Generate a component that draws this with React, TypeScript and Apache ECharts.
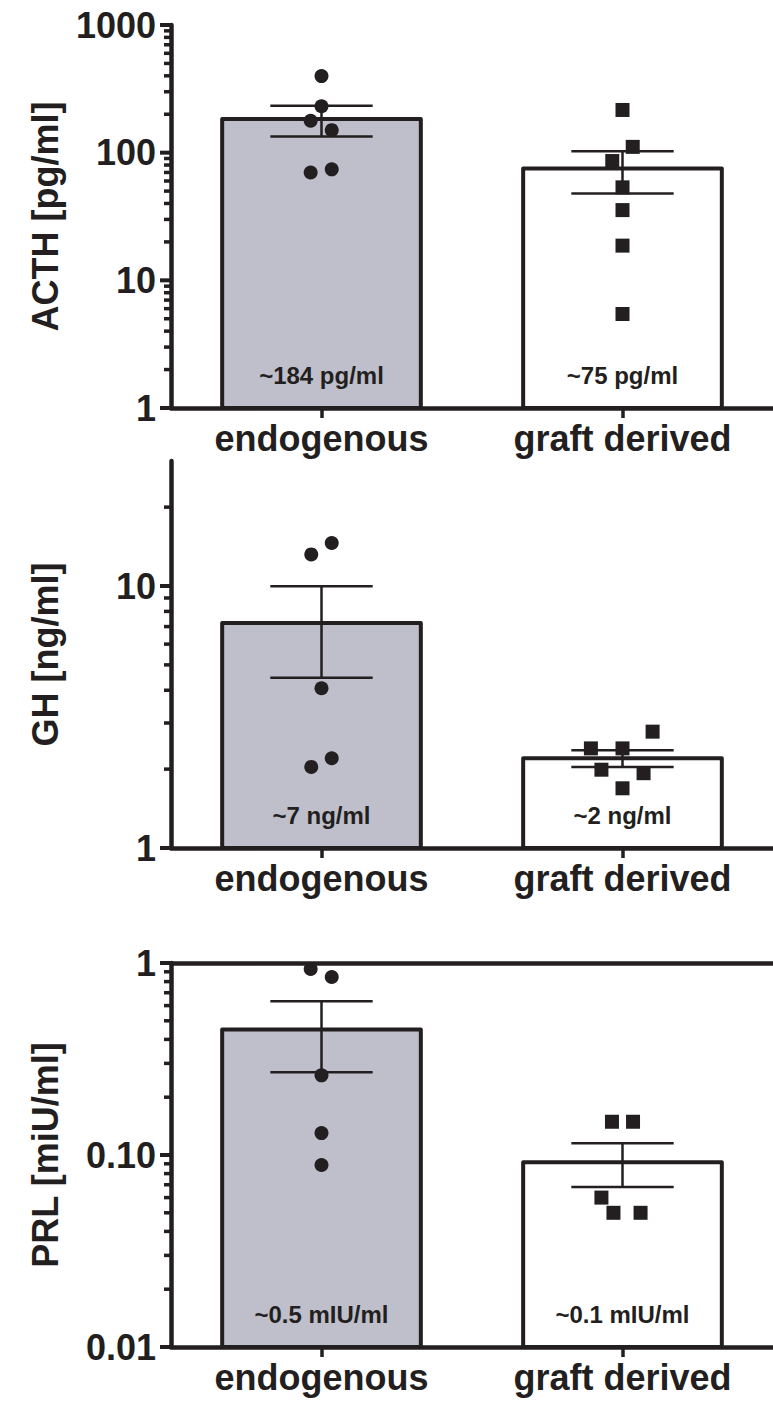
import React, { useEffect, useRef } from "react";
import * as echarts from "echarts";

// ---------- data ----------
const CATEGORIES = ["endogenous", "graft derived"];

const ACTH_ENDO = [398, 231, 178, 150, 70, 74];
const ACTH_ENDO_JITTER = [0, 0, -0.036, 0.034, -0.036, 0.034];
const ACTH_GRAFT = [216, 111, 86, 53.5, 35.5, 18.7, 5.45];
const ACTH_GRAFT_JITTER = [0, 0.034, -0.034, 0, 0, 0, 0];
const ACTH_BAR_LABELS = ["~184 pg/ml", "~75 pg/ml"];
const ACTH_TICKS = [1, 10, 100, 1000];
const ACTH_TICK_LABELS = ["1", "10", "100", "1000"];

const GH_ENDO = [14.6, 13.2, 4.07, 2.2, 2.04];
const GH_ENDO_JITTER = [0.034, -0.034, 0, 0.034, -0.034];
const GH_GRAFT = [2.4, 2.4, 2.78, 1.99, 1.69, 1.93];
const GH_GRAFT_JITTER = [-0.105, 0, 0.1, -0.07, 0, 0.07];
const GH_BAR_LABELS = ["~7 ng/ml", "~2 ng/ml"];
const GH_TICKS = [1, 10];
const GH_TICK_LABELS = ["1", "10"];

const PRL_ENDO = [0.93, 0.845, 0.26, 0.13, 0.0887];
const PRL_ENDO_JITTER = [-0.036, 0.034, 0, 0, 0];
const PRL_GRAFT = [0.149, 0.149, 0.06, 0.05, 0.05];
const PRL_GRAFT_JITTER = [-0.035, 0.035, -0.07, -0.03, 0.06];
const PRL_BAR_LABELS = ["~0.5 mIU/ml", "~0.1 mIU/ml"];
const PRL_TICKS = [0.01, 0.1, 1];
const PRL_TICK_LABELS = ["0.01", "0.10", "1"];

const Y_NAMES = ["ACTH [pg/ml]", "GH [ng/ml]", "PRL [miU/ml]"];
const Y_MIN = [1, 1, 0.01];
const Y_MAX = [1000, 30, 1];

// ---------- styling ----------
const INK = "#231f20";
const BAR_FILLS = ["#bfbfcb", "#ffffff"];
const FONT = "'Liberation Sans', Arial, Helvetica, sans-serif";

const GRIDS = [
  { left: 171, top: 25, width: 610, height: 383 },
  { left: 171, top: 461, width: 610, height: 387 },
  { left: 171, top: 963, width: 610, height: 384 },
];

function mean(a: number[]) {
  return a.reduce((s, v) => s + v, 0) / a.length;
}
function sem(a: number[]) {
  const m = mean(a);
  const v = a.reduce((s, x) => s + (x - m) * (x - m), 0) / (a.length - 1);
  return Math.sqrt(v / a.length);
}
function minorTicks(min: number, max: number) {
  const out: number[] = [];
  const e0 = Math.floor(Math.log10(min));
  const e1 = Math.ceil(Math.log10(max));
  for (let e = e0; e <= e1; e++) {
    for (let k = 2; k <= 9; k++) {
      const v = k * Math.pow(10, e);
      if (v > min * 1.0001 && v < max * 0.9999) out.push(v);
    }
  }
  return out;
}

const PANELS = [
  {
    groups: [ACTH_ENDO, ACTH_GRAFT],
    jitter: [ACTH_ENDO_JITTER, ACTH_GRAFT_JITTER],
    barLabels: ACTH_BAR_LABELS,
    ticks: ACTH_TICKS,
    tickLabels: ACTH_TICK_LABELS,
  },
  {
    groups: [GH_ENDO, GH_GRAFT],
    jitter: [GH_ENDO_JITTER, GH_GRAFT_JITTER],
    barLabels: GH_BAR_LABELS,
    ticks: GH_TICKS,
    tickLabels: GH_TICK_LABELS,
  },
  {
    groups: [PRL_ENDO, PRL_GRAFT],
    jitter: [PRL_ENDO_JITTER, PRL_GRAFT_JITTER],
    barLabels: PRL_BAR_LABELS,
    ticks: PRL_TICKS,
    tickLabels: PRL_TICK_LABELS,
  },
];

function buildOption() {
  const grid: any[] = [];
  const xAxis: any[] = [];
  const yAxis: any[] = [];
  const series: any[] = [];

  PANELS.forEach((p, i) => {
    const min = Y_MIN[i];
    const max = Y_MAX[i];
    grid.push({ ...GRIDS[i], containLabel: false });
    // category axis (display)
    xAxis.push({
      type: "category",
      gridIndex: i,
      data: CATEGORIES,
      position: "bottom",
      axisLine: { show: true, lineStyle: { color: INK, width: 4.5 } },
      axisTick: {
        show: true,
        alignWithLabel: true,
        length: 10,
        lineStyle: { color: INK, width: 3.5 },
      },
      axisLabel: {
        color: INK,
        fontSize: 36,
        fontWeight: "bold",
        fontFamily: FONT,
        margin: 12,
        interval: 0,
      },
      splitLine: { show: false },
    });
    // value axis for positioning marks (top line shown in the last panel)
    xAxis.push({
      type: "value",
      gridIndex: i,
      min: 0,
      max: 2,
      position: "top",
      show: i === 2,
      z: 10,
      axisLine: { show: i === 2, onZero: false, lineStyle: { color: INK, width: 4.5 } },
      axisTick: { show: false },
      axisLabel: { show: false },
      splitLine: { show: false },
    });
    const ticks = p.ticks;
    const tickLabels = p.tickLabels;
    yAxis.push({
      type: "log",
      logBase: 10,
      gridIndex: i,
      min,
      max,
      name: Y_NAMES[i],
      nameLocation: "middle",
      nameGap: 108,
      nameTextStyle: {
        color: INK,
        fontSize: 36,
        fontWeight: "bold",
        fontFamily: FONT,
      },
      axisLine: { show: true, lineStyle: { color: INK, width: 4.5 } },
      axisTick: { show: false },
      axisLabel: {
        color: INK,
        fontSize: 36,
        fontWeight: "bold",
        fontFamily: FONT,
        margin: 15,
        formatter: (v: number) => {
          for (let k = 0; k < ticks.length; k++) {
            if (Math.abs(Math.log10(v) - Math.log10(ticks[k])) < 1e-6) return tickLabels[k];
          }
          return "";
        },
      },
      splitLine: { show: false },
      minorTick: { show: false },
    });

    const vx = 2 * i + 1;
    const barData = p.groups.map((g, gi) => [gi + 0.5, mean(g), sem(g), gi]);
    const labels = p.barLabels;

    // bars
    series.push({
      type: "custom",
      xAxisIndex: vx,
      yAxisIndex: i,
      z: 2,
      clip: false,
      silent: true,
      data: barData,
      encode: { x: 0, y: 1 },
      renderItem: (params: any, api: any) => {
        const x = api.value(0);
        const top = api.coord([x, api.value(1)]);
        const base = api.coord([x, min]);
        const band = params.coordSys.width / 2;
        const w = band * 0.66;
        const gi = api.value(3);
        return {
          type: "group",
          children: [
            {
              type: "rect",
              shape: { x: top[0] - w / 2, y: top[1], width: w, height: base[1] - top[1] },
              style: { fill: BAR_FILLS[gi], stroke: INK, lineWidth: 4, lineJoin: "round" },
            },
            {
              type: "text",
              x: top[0],
              y: base[1] - 33,
              style: {
                text: labels[gi],
                fontSize: 24,
                fontWeight: "bold",
                fontFamily: FONT,
                fill: INK,
                align: "center",
                verticalAlign: "middle",
              },
            },
          ],
        };
      },
    });

    // error bars (mean ± SEM)
    series.push({
      type: "custom",
      xAxisIndex: vx,
      yAxisIndex: i,
      z: 3,
      clip: false,
      silent: true,
      data: barData,
      encode: { x: 0, y: 1 },
      renderItem: (params: any, api: any) => {
        const x = api.value(0);
        const m = api.value(1);
        const s = api.value(2);
        const hi = api.coord([x, m + s]);
        const lo = api.coord([x, m - s]);
        const band = params.coordSys.width / 2;
        const hw = band * 0.17;
        const st = { stroke: INK, lineWidth: 2.5 };
        return {
          type: "group",
          children: [
            { type: "line", shape: { x1: hi[0], y1: hi[1], x2: lo[0], y2: lo[1] }, style: st },
            { type: "line", shape: { x1: hi[0] - hw, y1: hi[1], x2: hi[0] + hw, y2: hi[1] }, style: st },
            { type: "line", shape: { x1: lo[0] - hw, y1: lo[1], x2: lo[0] + hw, y2: lo[1] }, style: st },
          ],
        };
      },
    });

    // individual points
    p.groups.forEach((g, gi) => {
      series.push({
        type: "scatter",
        xAxisIndex: vx,
        yAxisIndex: i,
        z: 4,
        silent: true,
        symbol: gi === 0 ? "circle" : "rect",
        symbolSize: 14,
        itemStyle: { color: INK, opacity: 1 },
        data: g.map((v, k) => [gi + 0.5 + p.jitter[gi][k], v]),
      });
    });

    // y-axis ticks (major and minor)
    const tickData = [
      ...ticks.map((v) => [0, v, 1]),
      ...minorTicks(min, max).map((v) => [0, v, 0]),
    ];
    series.push({
      type: "custom",
      xAxisIndex: vx,
      yAxisIndex: i,
      z: 5,
      clip: false,
      silent: true,
      data: tickData,
      encode: { x: 0, y: 1 },
      renderItem: (params: any, api: any) => {
        const y = api.coord([0, api.value(1)])[1];
        const x0 = params.coordSys.x;
        const major = api.value(2) === 1;
        const len = major ? 11 : 7;
        return {
          type: "line",
          shape: { x1: x0 - len, y1: y, x2: x0, y2: y },
          style: { stroke: INK, lineWidth: major ? 4 : 3.5 },
        };
      },
    });
  });

  return {
    animation: false,
    backgroundColor: "#ffffff",
    grid,
    xAxis,
    yAxis,
    series,
  };
}

export default function App() {
  const ref = useRef<HTMLDivElement>(null);
  useEffect(() => {
    document.body.style.margin = "0";
    document.body.style.overflow = "hidden";
    if (!ref.current) return;
    const chart = echarts.init(ref.current, null, { renderer: "svg" });
    chart.setOption(buildOption() as any);
    return () => chart.dispose();
  }, []);
  return <div ref={ref} style={{ width: 773, height: 1404 }} />;
}
